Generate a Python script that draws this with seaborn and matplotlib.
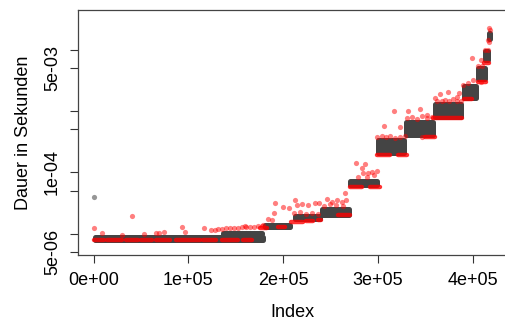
import numpy as np
import pandas as pd
import seaborn as sns
import matplotlib
matplotlib.use("Agg")
import matplotlib.pyplot as plt
from matplotlib.ticker import NullLocator

# dense grey blocks of measurements: index range and duration range (s)
band_start = [1000, 137000, 180500, 212000, 241500, 270000, 300500, 330000,
              360500, 391000, 406000, 413500, 417000]
band_end = [179000, 178000, 207000, 238500, 269000, 298500, 328000, 358500,
            388000, 404000, 412500, 415700, 418300]
band_low = [7.8e-6, 9.8e-6, 1.3e-5, 1.72e-5, 2.05e-5, 6.3e-5, 2.1e-4, 4.0e-4,
            8.1e-4, 1.65e-3, 3.3e-3, 6.9e-3, 1.47e-2]
band_high = [8.9e-6, 1.03e-5, 1.4e-5, 1.97e-5, 2.5e-5, 7.1e-5, 3.43e-4, 6.5e-4,
             1.28e-3, 2.6e-3, 5.1e-3, 9.7e-3, 1.9e-2]

# runs of overlapping red points along the lower edge of the blocks
run_start = [0, 14400, 34500, 50300, 66100, 87200, 115600, 135700, 157800,
             175800, 194700, 208400, 224300, 236900, 258000, 270600, 291700,
             299300, 321100, 349700, 358200, 390900, 405600, 411900]
run_end = [11300, 30300, 47100, 61900, 80900, 112500, 129400, 152600, 167300,
           183200, 202100, 221000, 231700, 240100, 270600, 283400, 302300,
           312800, 330600, 360300, 388700, 399100, 414000, 417200]
run_val = [8.0e-6, 7.75e-6, 7.75e-6, 7.8e-6, 7.75e-6, 7.75e-6, 7.8e-6, 7.8e-6, 7.8e-6,
           1.234e-5, 1.306e-5, 1.575e-5, 1.636e-5, 1.66e-5, 2.05e-5, 5.87e-5, 5.87e-5,
           1.95e-4, 1.915e-4, 3.84e-4, 7.69e-4, 1.6e-3, 3.03e-3, 6.07e-3]

# single red points
red_idx = [0, 40060, 8860, 29940, 52700, 66100, 68500, 73800, 93200, 96700,
           116700, 124100, 128300, 131500, 135700, 139900, 144100, 148300, 152500,
           156800, 159600, 161000, 165200, 169400, 173700, 177900, 178900, 184500,
           187700, 189800, 191600, 200300, 206600, 211600, 212700, 215100, 217900,
           219700, 224300, 226700, 230600, 233700, 236900, 238300, 243200, 246100,
           249600, 251300, 255900, 257300, 261900, 263300, 265400, 266400, 277000,
           279400, 283000, 284700, 286500, 288200, 290000, 293500, 296000, 298800,
           299100, 304400, 306500, 308600, 312800, 317000, 318100, 323300, 323400,
           328600, 330700, 331800, 336000, 341300, 344400, 346200, 346500, 351500,
           351800, 357100, 360300, 362000, 365500, 368000, 370800, 374300, 375000,
           379600, 383100, 383000, 385900, 388000, 390100, 395400, 398900, 400600,
           405600, 408400, 408400, 409800, 413000, 416100, 416400, 416900, 417500,
           418200]
red_val = [1.22e-5, 1.96e-5, 1.034e-5, 9.5e-6, 9.74e-6, 1.023e-5, 1.03e-5, 1.074e-5,
           1.296e-5, 1.074e-5, 1.258e-5, 1.145e-5, 1.145e-5, 1.211e-5, 1.21e-5,
           1.234e-5, 1.234e-5, 1.258e-5, 1.258e-5, 1.281e-5, 1.356e-5, 1.28e-5,
           1.306e-5, 1.306e-5, 1.33e-5, 1.33e-5, 1.381e-5, 1.711e-5, 1.667e-5,
           2.144e-5, 3.19e-5, 2.686e-5, 2.646e-5, 2.168e-5, 3.534e-5, 2.928e-5,
           2.252e-5, 3.04e-5, 2.088e-5, 2.93e-5, 2.168e-5, 3.19e-5, 2.088e-5,
           3.19e-5, 2.82e-5, 3.67e-5, 3.04e-5, 3.315e-5, 2.93e-5, 3.53e-5, 3.31e-5,
           2.82e-5, 4.545e-5, 3.53e-5, 1.434e-4, 8.48e-5, 1.162e-4, 9.63e-5,
           1.366e-4, 8.48e-5, 9.85e-5, 1.023e-4, 9.03e-5, 1.05e-4, 3.767e-4,
           3.91e-4, 5.69e-4, 3.72e-4, 3.91e-4, 1.011e-3, 3.63e-4, 5.55e-4, 3.767e-4,
           3.91e-4, 7.69e-4, 1.011e-3, 7.98e-4, 7.4e-4, 1.066e-3, 3.81e-4, 8.29e-4,
           8.6e-4, 7.69e-4, 7.98e-4, 1.611e-3, 1.455e-3, 1.894e-3, 1.47e-3, 1.511e-3,
           2.065e-3, 1.44e-3, 1.552e-3, 1.711e-3, 1.47e-3, 1.988e-3, 1.455e-3,
           2.656e-3, 2.83e-3, 7.4e-3, 3.2e-3, 5.42e-3, 3.0e-3, 6.79e-3, 5.52e-3,
           9.89e-3, 1.008e-2, 1.44e-2, 1.35e-2, 2.234e-2, 2.1e-2]

# lone grey point at the start
grey_idx = [0]
grey_val = [3.95e-5]

x_ticks = [0, 1e5, 2e5, 3e5, 4e5]
x_labels = ["0e+00", "1e+05", "2e+05", "3e+05", "4e+05"]
y_ticks = [5e-6, 1e-5, 5e-5, 1e-4, 5e-4, 1e-3, 5e-3, 1e-2]
y_labels = ["5e-06", "", "", "1e-04", "", "", "5e-03", ""]

sns.set_style("white")
plt.rcParams["font.family"] = ["Liberation Sans", "DejaVu Sans"]
plt.rcParams.update({"text.color": "black", "axes.labelcolor": "black",
                     "xtick.color": "black", "ytick.color": "black"})

fig = plt.figure(figsize=(5.05, 3.22), dpi=100)
ax = fig.add_axes([0.1539, 0.2081, 0.8512, 0.7609])
ax.set_yscale("log")

grey = "#444444"
for s, e, lo, hi in zip(band_start, band_end, band_low, band_high):
    ax.fill_between([s, e], [lo, lo], [hi, hi], facecolor=grey, edgecolor=grey,
                    linewidth=3.6, joinstyle="round", zorder=2)

for s, e, v in zip(run_start, run_end, run_val):
    ax.plot([s, e], [v, v], color=(1, 0, 0, 0.8), lw=3.2,
            solid_capstyle="round", zorder=3)

red_df = pd.DataFrame({"Index": red_idx, "Dauer": red_val})
sns.scatterplot(data=red_df, x="Index", y="Dauer", color="red", alpha=0.5,
                s=14, linewidth=0, ax=ax, zorder=4)
sns.scatterplot(x=grey_idx, y=grey_val, color="#404040", alpha=0.55,
                s=14, linewidth=0, ax=ax, zorder=4)

ax.set_xlim(-16800, 436800)
ax.set_ylim(4.48e-6, 0.0445)

ax.set_xticks(x_ticks)
ax.set_xticklabels(x_labels)
ax.set_yticks(y_ticks)
ax.set_yticklabels(y_labels)
ax.yaxis.set_minor_locator(NullLocator())
ax.tick_params(axis="both", length=6, width=0.8, color="#333333",
               labelsize=13, pad=6, direction="out")
ax.tick_params(bottom=True, left=True)
plt.setp(ax.get_yticklabels(), rotation=90, va="center", ha="right")

ax.set_xlabel("Index", fontsize=13, labelpad=11)
ax.set_ylabel("Dauer in Sekunden", fontsize=13, labelpad=9)

for sp in ax.spines.values():
    sp.set_color("#444444")
    sp.set_linewidth(0.9)

fig.savefig("out.png", dpi=100)
